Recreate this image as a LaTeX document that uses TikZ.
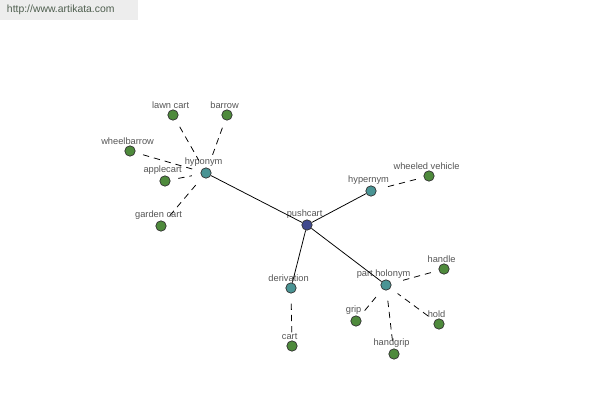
\documentclass[tikz,border=0pt]{standalone}
\usepackage{fontspec}
\setmainfont{Liberation Sans}
\usepackage{tikz}
\usetikzlibrary{positioning}
\definecolor{rootcol}{HTML}{414A8E}
\definecolor{hubcol}{HTML}{4A9494}
\definecolor{leafcol}{HTML}{4E8A3C}
\definecolor{lblcol}{HTML}{555555}
\definecolor{wmbg}{HTML}{EDEDED}
\definecolor{wmtxt}{HTML}{4E5E4E}

\begin{document}
\begin{tikzpicture}[x=0.025cm, y=-0.025cm,
    dot/.style={circle, draw=black!80, line width=0.5pt, inner sep=0pt, minimum size=0.26cm},
    rootdot/.style={dot, fill=rootcol},
    hubdot/.style={dot, fill=hubcol},
    leafdot/.style={dot, fill=leafcol},
    lbl/.style={font=\fontsize{6.6}{7}\selectfont, text=lblcol, inner sep=0.7pt, xshift=-0.06cm},
    rel/.style={line width=0.55pt},
    weak/.style={line width=0.55pt, dash pattern=on 4.5pt off 3.5pt, shorten <=0.2cm, shorten >=0.22cm}]
    \useasboundingbox (0,0) rectangle (600,400);
    % watermark
    \fill [wmbg] (0,0) rectangle (138,20);
    \node [font=\fontsize{7.4}{8}\selectfont, text=wmtxt, anchor=west] (site) at (2,10) {http://www.artikata.com};
    % centre and relation nodes
    \node [rootdot, label={[lbl]above:pushcart}] (pushcart) at (307,225) {};
    \node [hubdot, label={[lbl]above:hyponym}] (hyponym) at (206,173) {};
    \node [hubdot, label={[lbl]above:hypernym}] (hypernym) at (371,191) {};
    \node [hubdot, label={[lbl]above:derivation}] (derivation) at (291,288) {};
    \node [hubdot, label={[lbl]above:part holonym}] (holonym) at (386,285) {};
    % words
    \node [leafdot, label={[lbl]above:lawn cart}] (lawncart) at (173,115) {};
    \node [leafdot, label={[lbl]above:barrow}] (barrow) at (227,115) {};
    \node [leafdot, label={[lbl]above:wheelbarrow}] (wheelbarrow) at (130,151) {};
    \node [leafdot, label={[lbl]above:applecart}] (applecart) at (165,181) {};
    \node [leafdot, label={[lbl]above:garden cart}] (gardencart) at (161,226) {};
    \node [leafdot, label={[lbl]above:wheeled vehicle}] (vehicle) at (429,176) {};
    \node [leafdot, label={[lbl]above:cart}] (cart) at (292,346) {};
    \node [leafdot, label={[lbl]above:handle}] (handle) at (444,269) {};
    \node [leafdot, label={[lbl]above:grip}] (grip) at (356,321) {};
    \node [leafdot, label={[lbl]above:hold}] (hold) at (439,324) {};
    \node [leafdot, label={[lbl]above:handgrip}] (handgrip) at (394,354) {};
    % links
    \foreach \n in {hyponym, hypernym, derivation, holonym} { \draw [rel] (pushcart) -- (\n); }
    \foreach \n in {lawncart, barrow, wheelbarrow, applecart, gardencart} { \draw [weak] (\n) -- (hyponym); }
    \draw [weak] (vehicle) -- (hypernym);
    \draw [weak] (cart) -- (derivation);
    \foreach \n in {handle, grip, hold, handgrip} { \draw [weak] (\n) -- (holonym); }
\end{tikzpicture}
\end{document}
